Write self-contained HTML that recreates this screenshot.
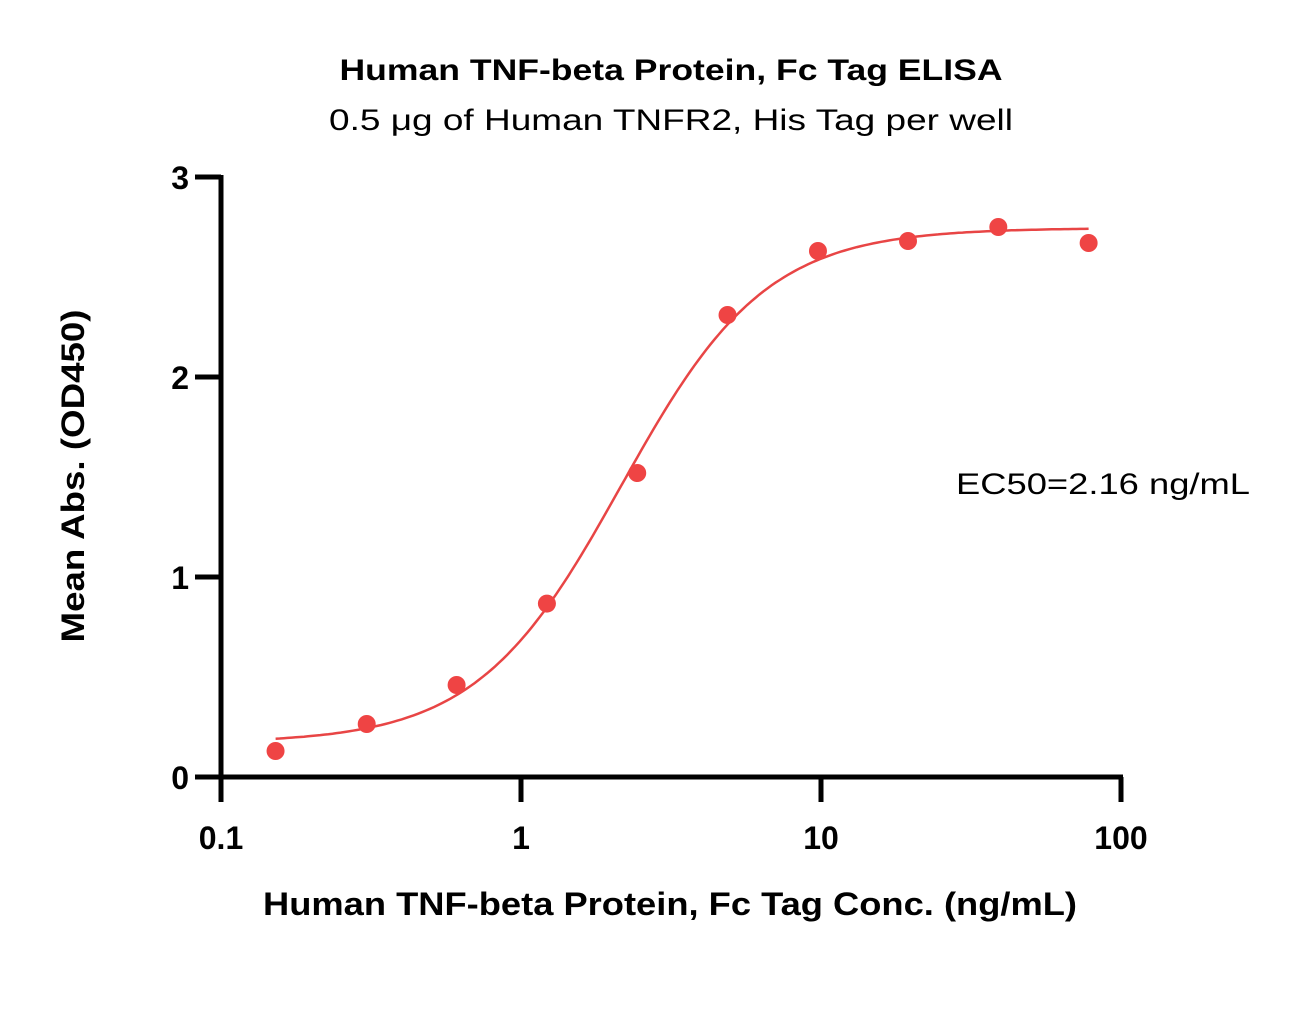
<!DOCTYPE html>
<html><head><meta charset="utf-8"><style>body{margin:0;background:#fff}svg{display:block}text{font-family:"Liberation Sans",sans-serif}</style></head>
<body>
<svg id="chart" width="1295" height="1023" xmlns="http://www.w3.org/2000/svg">
<text x="671" y="80" text-anchor="middle" font-size="30" font-weight="bold" textLength="663" lengthAdjust="spacingAndGlyphs">Human TNF-beta Protein, Fc Tag ELISA</text>
<text x="671" y="130" text-anchor="middle" font-size="30" textLength="684" lengthAdjust="spacingAndGlyphs">0.5 μg of Human TNFR2, His Tag per well</text>
<text x="670" y="915" text-anchor="middle" font-size="32" font-weight="bold" textLength="814" lengthAdjust="spacingAndGlyphs">Human TNF-beta Protein, Fc Tag Conc. (ng/mL)</text>
<text transform="translate(84,476) rotate(-90)" text-anchor="middle" font-size="32" font-weight="bold" textLength="333" lengthAdjust="spacingAndGlyphs">Mean Abs. (OD450)</text>
<text x="956" y="494" font-size="30" textLength="294" lengthAdjust="spacingAndGlyphs">EC50=2.16 ng/mL</text>
<g id="axes"></g>
<g id="marks"></g>
</svg>
<script>
const concentrations=[0.152,0.306,0.61,1.22,2.44,4.88,9.77,19.5,39,78];
const absorbance=[0.13,0.265,0.46,0.867,1.52,2.31,2.63,2.68,2.75,2.67];
const fitBottom=[0.17];
const fitTop=[2.745];
const fitEC50=[2.16];
const fitHill=[1.8];
const xTicks=[0.1,1,10,100];
const xTickLabels=["0.1","1","10","100"];
const yTicks=[0,1,2,3];
const yTickLabels=["0","1","2","3"];

const NS="http://www.w3.org/2000/svg";
const X0=221,X1=1121,Y0=777,Y1=177;
function xs(v){return X0+(Math.log10(v)+1)/3*(X1-X0);}
function ys(v){return Y0-v/3*(Y0-Y1);}
function mk(t,a,p){const e=document.createElementNS(NS,t);for(const k in a)e.setAttribute(k,a[k]);p.appendChild(e);return e;}
const axes=document.getElementById('axes'),marks=document.getElementById('marks');
let l=mk('line',{x1:X0,y1:Y1-2,x2:X0,y2:Y0+2,stroke:'#000','stroke-width':5},axes);


l=mk('line',{x1:X0-3,y1:Y0,x2:X1+2,y2:Y0,stroke:'#000','stroke-width':5},axes);


yTicks.forEach((v,i)=>{
  const t=mk('line',{x1:X0-26,y1:ys(v),x2:X0,y2:ys(v),stroke:'#000','stroke-width':5},axes);
  
  
  const tx=mk('text',{x:X0-32,y:ys(v)+12,'text-anchor':'end','font-size':32,'font-weight':'bold'},axes);
  tx.textContent=yTickLabels[i];
  
  
});
xTicks.forEach((v,i)=>{
  const t=mk('line',{x1:xs(v),y1:Y0,x2:xs(v),y2:Y0+25,stroke:'#000','stroke-width':5},axes);
  
  
  const tx=mk('text',{x:xs(v),y:849,'text-anchor':'middle','font-size':32,'font-weight':'bold'},axes);
  tx.textContent=xTickLabels[i];
  
  
});
function f(x){return fitBottom[0]+(fitTop[0]-fitBottom[0])/(1+Math.pow(fitEC50[0]/x,fitHill[0]));}
const lo=Math.log10(concentrations[0]),hi=Math.log10(concentrations[concentrations.length-1]);
let d='';
for(let i=0;i<=200;i++){const x=Math.pow(10,lo+(hi-lo)*i/200);d+=(i?'L':'M')+xs(x).toFixed(1)+','+ys(f(x)).toFixed(1);}
const c=mk('path',{d:d,fill:'none',stroke:'#e84545','stroke-width':2.5},marks);


concentrations.forEach((x,i)=>{
  const p=mk('circle',{cx:xs(x),cy:ys(absorbance[i]),r:9,fill:'#ef4444'},marks);
  
  
});
</script>
</body></html>
